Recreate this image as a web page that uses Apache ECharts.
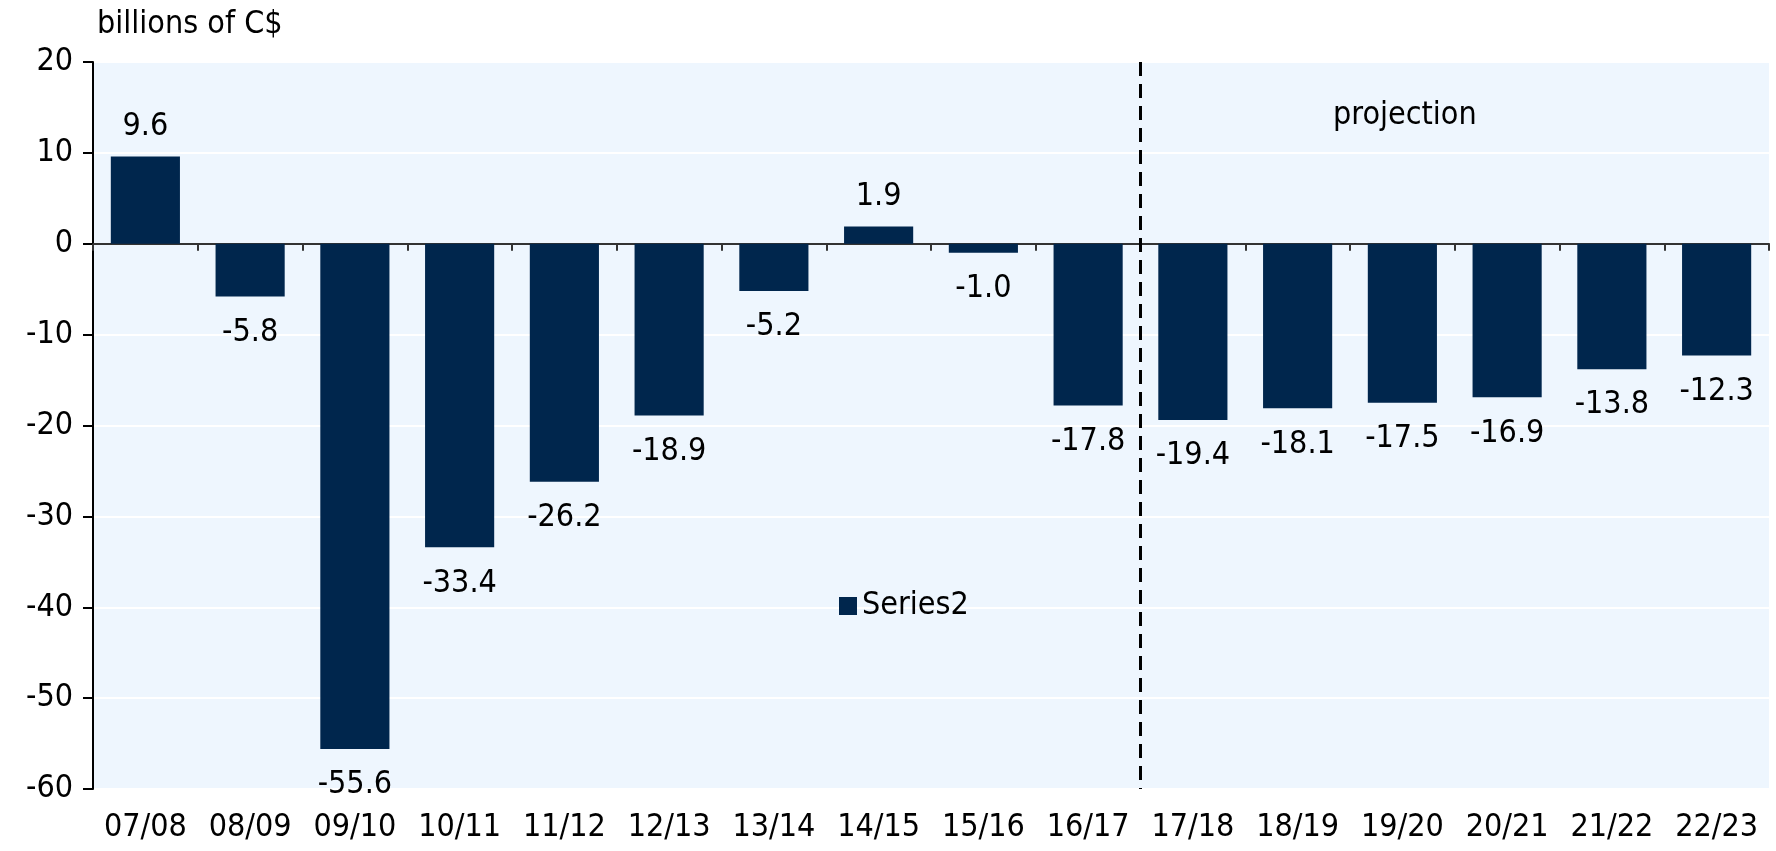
<!DOCTYPE html>
<html>
<head>
<meta charset="utf-8">
<script src="https://cdn.jsdelivr.net/npm/echarts@6/dist/echarts.min.js"></script>
<style>
  html, body { margin: 0; padding: 0; background: #ffffff; }
  #chart { width: 1776px; height: 851px; }
</style>
</head>
<body>
<div id="chart"></div>
<script>
// fiscal years
const categories = ["07/08", "08/09", "09/10", "10/11", "11/12", "12/13", "13/14", "14/15",
  "15/16", "16/17", "17/18", "18/19", "19/20", "20/21", "21/22", "22/23"];
// budgetary balance, billions of C$
const balance = [9.6, -5.8, -55.6, -33.4, -26.2, -18.9, -5.2, 1.9,
  -1.0, -17.8, -19.4, -18.1, -17.5, -16.9, -13.8, -12.3];
const yTicks = { min: -60, max: 20, interval: 10 };
const projectionStart = 10; // index of 17/18, first projected year

const font = "'DejaVu Sans Condensed', 'DejaVu Sans'";
const fs = 32;
const barColor = "#00264d";

let myChart = echarts.init(document.getElementById("chart"));
myChart.setOption({
  animation: false,
  textStyle: { fontFamily: font, color: "#000" },
  grid: {
    left: 93,
    right: 7,
    top: 62,
    bottom: 62,
    show: true,
    backgroundColor: "#eef6fe",
    borderWidth: 0,
  },
  legend: {
    left: 834,
    top: 585,
    icon: "rect",
    itemWidth: 18,
    itemHeight: 18,
    itemGap: 8,
    textStyle: { fontFamily: font, fontSize: fs, color: "#000" },
    data: ["Series2"],
  },
  graphic: [
    {
      type: "text",
      left: 97,
      top: 9,
      style: { text: "billions of C$", fontFamily: font, fontSize: fs, fill: "#000" },
    },
    {
      type: "text",
      left: 1333,
      top: 100,
      style: { text: "projection", fontFamily: font, fontSize: fs, fill: "#000" },
    },
  ],
  xAxis: [
    {
      type: "category",
      data: categories,
      axisLine: { onZero: true, lineStyle: { color: "#333", width: 2 } },
      axisTick: { show: true, interval: 0, length: 7, lineStyle: { color: "#333", width: 2 } },
      axisLabel: { show: false },
    },
    {
      type: "category",
      data: categories,
      position: "bottom",
      axisLine: { show: false, onZero: false },
      axisTick: { show: false },
      axisLabel: { interval: 0, fontFamily: font, fontSize: fs, color: "#000", margin: 23 },
    },
    {
      // hidden value axis for the projection divider
      type: "value",
      min: 0,
      max: categories.length,
      show: false,
    },
  ],
  yAxis: {
    type: "value",
    min: yTicks.min,
    max: yTicks.max,
    interval: yTicks.interval,
    axisLine: { show: true, lineStyle: { color: "#000", width: 2 } },
    axisTick: { show: true, length: 10, lineStyle: { color: "#000", width: 2 } },
    axisLabel: { fontFamily: font, fontSize: fs, color: "#000", margin: 20 },
    splitLine: { lineStyle: { color: "#ffffff", width: 2 } },
  },
  series: [
    {
      name: "Series2",
      type: "bar",
      xAxisIndex: 0,
      data: balance.map((v) => ({
        value: v,
        label: { position: v >= 0 ? "top" : "bottom", distance: v >= 0 ? 14 : 20 },
      })),
      barCategoryGap: "34%",
      itemStyle: { color: barColor },
      label: {
        show: true,
        fontFamily: font,
        fontSize: fs,
        color: "#000",
        formatter: (p) => p.value.toFixed(1),
      },
    },
    {
      name: "divider",
      type: "line",
      xAxisIndex: 2,
      data: [
        [projectionStart, yTicks.max],
        [projectionStart, yTicks.min],
      ],
      symbol: "none",
      lineStyle: { color: "#000", width: 3, type: [14, 8] },
      z: 5,
    },
  ],
});
</script>
</body>
</html>
